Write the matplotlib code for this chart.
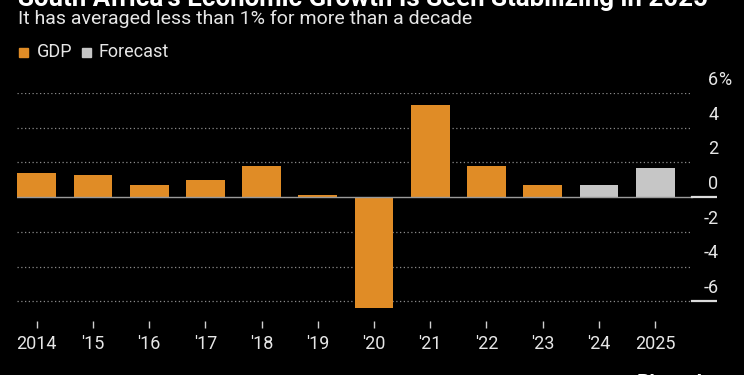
import matplotlib
matplotlib.use("Agg")
import matplotlib.pyplot as plt
from matplotlib.patches import Rectangle

# Veri
years = ["2014", "'15", "'16", "'17", "'18", "'19", "'20", "'21", "'22", "'23", "'24", "2025"]
gdp = [1.4, 1.3, 0.7, 1.0, 1.8, 0.1, -6.4, 5.3, 1.8, 0.7, 0.7, 1.7]
forecast = [False] * 10 + [True, True]
yticks = [6, 4, 2, 0, -2, -4, -6]

ORANGE = "#e08c26"
GREY = "#c6c6c6"
BG = "#000000"
TXT = "#e6e6e6"

plt.rcParams.update({
    "font.family": ["Liberation Sans Narrow", "Roboto", "DejaVu Sans"],
    "figure.facecolor": BG,
    "axes.facecolor": BG,
    "text.color": TXT,
})

fig = plt.figure(figsize=(7.44, 3.75), dpi=100)
W, H = 744, 375


def fx(px):
    return px / W


def fy(py):
    return 1 - py / H


ax = fig.add_axes([fx(17), fy(310), fx(717) - fx(17), fy(93) - fy(310)])
ax.set_xlim(-0.35, 12.1)
ax.set_ylim(-6.5, 6)

colors = [GREY if f else ORANGE for f in forecast]
ax.bar(range(len(gdp)), gdp, width=0.69, color=colors, zorder=3)

# Izgara
split = (11.65 + 0.35) / 12.45
for v in yticks:
    if v == 0:
        continue
    ax.axhline(v, xmax=split, color="#8a8a8a", lw=0.9,
               linestyle=(0, (1, 2)), zorder=1)
ax.axhline(0, xmax=split, color="#9a9a9a", lw=1.0, zorder=4)
for v in (0, -6):
    ax.axhline(v, xmin=split, xmax=1, color="#dcdcdc", lw=1.6, zorder=4)

# Y etiketleri (sağda, çizginin üstünde)
for v in yticks:
    ax.annotate(f"{v}", xy=(1.0, v), xycoords=("axes fraction", "data"),
                xytext=(1, 3), textcoords="offset points",
                ha="right", va="bottom", fontsize=13, color=TXT)
ax.annotate("%", xy=(1.0, 6), xycoords=("axes fraction", "data"),
            xytext=(1, 3), textcoords="offset points",
            ha="left", va="bottom", fontsize=13, color=TXT)

for s in ax.spines.values():
    s.set_visible(False)
ax.spines["bottom"].set_position(("outward", 8))
ax.set_yticks([])
ax.set_xticks(range(len(years)))
ax.set_xticklabels(years, fontsize=13, color=TXT)
ax.tick_params(axis="x", length=5, width=1, color="#cfcfcf", pad=5)

# Başlıklar
fig.text(fx(18), fy(6), "South Africa's Economic Growth Is Seen Stabilizing in 2025",
         fontsize=18.6, fontweight="bold", color="#ffffff", ha="left", va="baseline")
fig.text(fx(18), fy(19), "It has averaged less than 1% for more than a decade",
         fontsize=14, color=TXT, ha="left", va="center")

# Lejant
fig.patches.append(Rectangle((fx(19), fy(57)), fx(9), fx(9) * W / H,
                             transform=fig.transFigure, color=ORANGE))
fig.text(fx(37), fy(52), "GDP", fontsize=13, color=TXT, ha="left", va="center")
fig.patches.append(Rectangle((fx(82), fy(57)), fx(9), fx(9) * W / H,
                             transform=fig.transFigure, color=GREY))
fig.text(fx(99), fy(52), "Forecast", fontsize=13, color=TXT, ha="left", va="center")

fig.text(fx(637), fy(389), "Bloomberg", fontsize=15, fontweight="bold",
         color="#ffffff", ha="left", va="baseline")

fig.savefig("out.png", dpi=100, facecolor=BG)
